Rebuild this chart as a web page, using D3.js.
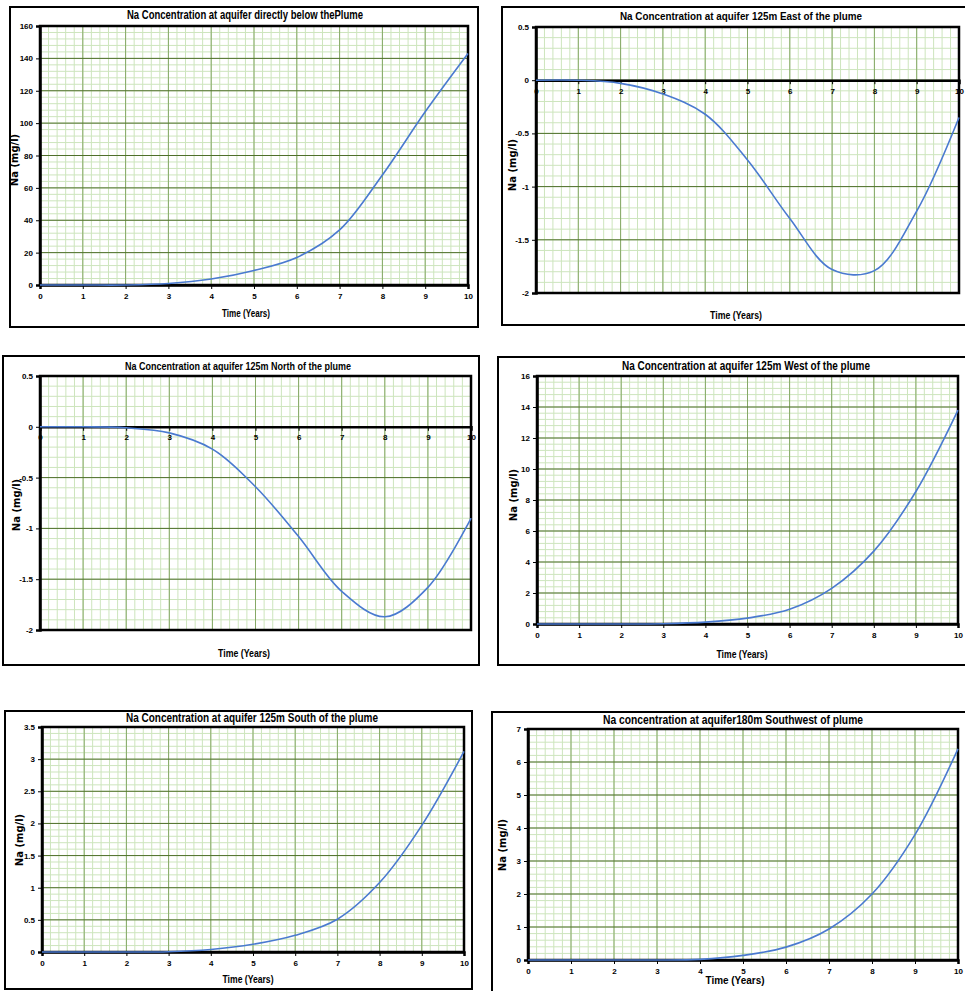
<!DOCTYPE html>
<html>
<head>
<meta charset="utf-8">
<script src="https://cdn.jsdelivr.net/npm/d3@7"></script>
<style>
  html, body { margin: 0; padding: 0; background: #fff; }
  svg { display: block; }
</style>
</head>
<body>
<svg id="chart" width="965" height="991"></svg>
<script>
// ---- data ----
const years = [0, 1, 2, 3, 4, 5, 6, 7, 8, 9, 10];
const xTicks = [0, 1, 2, 3, 4, 5, 6, 7, 8, 9, 10];

const naBelow = [0, 0, 0, 0.9, 3.7, 9, 17, 34, 68, 107, 143];
const naEast = [0, 0, -0.03, -0.13, -0.32, -0.75, -1.3, -1.78, -1.79, -1.23, -0.35];
const naNorth = [0, 0, -0.01, -0.06, -0.22, -0.59, -1.08, -1.62, -1.87, -1.58, -0.9];
const naWest = [0, 0, 0, 0.02, 0.12, 0.38, 0.95, 2.3, 4.7, 8.55, 13.8];
const naSouth = [0, 0, 0, 0.005, 0.04, 0.12, 0.26, 0.51, 1.08, 1.97, 3.12];
const naSouthwest = [0, 0, 0, 0, 0.02, 0.14, 0.39, 0.94, 2.0, 3.8, 6.4];

const yTicksBelow = [0, 20, 40, 60, 80, 100, 120, 140, 160];
const yTicksDip = [-2, -1.5, -1, -0.5, 0, 0.5];
const yTicksWest = [0, 2, 4, 6, 8, 10, 12, 14, 16];
const yTicksSouth = [0, 0.5, 1, 1.5, 2, 2.5, 3, 3.5];
const yTicksSouthwest = [0, 1, 2, 3, 4, 5, 6, 7];

const titles = [
    'Na Concentration at aquifer directly below thePlume',
    'Na Concentration at aquifer 125m East of the plume',
    'Na Concentration at aquifer 125m North of the plume',
    'Na Concentration at aquifer 125m West of the plume',
    'Na Concentration at aquifer 125m South of the plume',
    'Na concentration at aquifer180m Southwest of plume',
];
const xLabel = 'Time (Years)';
const yLabel = 'Na (mg/l)';

// ---- layout (frame, plot area, text spots) ----
const panels = [
    { values: naBelow, ticks: yTicksBelow, title: titles[0],
      frame: [10, 7, 468, 320], plot: [40, 26, 468, 285],
      titleAt: [245, 19, 236, 12], xLabAt: [246, 317, 48], yLabAt: [14, 160] },
    { values: naEast, ticks: yTicksDip, title: titles[1],
      frame: [502, 7, 475, 318], plot: [536, 27, 959, 293],
      titleAt: [741, 20, 242, 11], xLabAt: [736, 319, 52], yLabAt: [512, 165] },
    { values: naNorth, ticks: yTicksDip, title: titles[2],
      frame: [3, 356, 476, 309], plot: [40, 376, 471, 630],
      titleAt: [238, 370, 226, 11], xLabAt: [244, 657, 52], yLabAt: [16, 505] },
    { values: naWest, ticks: yTicksWest, title: titles[3],
      frame: [498, 357, 479, 308], plot: [537, 376, 958, 624],
      titleAt: [746, 370, 248, 12], xLabAt: [742, 658, 51], yLabAt: [513, 495] },
    { values: naSouth, ticks: yTicksSouth, title: titles[4],
      frame: [5, 711, 467, 278], plot: [42, 727, 464, 952],
      titleAt: [252, 722, 252, 12], xLabAt: [248, 983, 51], yLabAt: [19, 840] },
    { values: naSouthwest, ticks: yTicksSouthwest, title: titles[5],
      frame: [492, 712, 485, 290], plot: [528, 729, 958, 960],
      titleAt: [733, 724, 260, 12], xLabAt: [735, 984, 59], yLabAt: [502, 845] },
];

const svg = d3.select('#chart');
const narrow = '"Liberation Sans Narrow", "Arial Narrow", sans-serif';

panels.forEach((p) => {
    const [fx, fy, fw, fh] = p.frame;
    const [x0, y0, x1, y1] = p.plot;
    const g = svg.append('g');

    g.append('rect')
        .attr('x', fx).attr('y', fy).attr('width', fw).attr('height', fh)
        .attr('fill', '#fff').attr('stroke', '#000').attr('stroke-width', 2);

    const ymin = d3.min(p.ticks);
    const ymax = d3.max(p.ticks);
    const step = p.ticks[1] - p.ticks[0];
    const x = d3.scaleLinear().domain([0, 10]).range([x0, x1]);
    const y = d3.scaleLinear().domain([ymin, ymax]).range([y1, y0]);

    // minor grid, 5 per major step
    const minorX = d3.range(0, 50).map((i) => i / 5);
    const minorY = d3.range(0, Math.round((ymax - ymin) / step) * 5).map((i) => ymin + (i * step) / 5);
    g.selectAll('.minor-x').data(minorX).enter().append('line')
        .attr('x1', (d) => x(d)).attr('x2', (d) => x(d))
        .attr('y1', y0).attr('y2', y1)
        .attr('stroke', '#cde5bd').attr('stroke-width', 1);
    g.selectAll('.minor-y').data(minorY).enter().append('line')
        .attr('x1', x0).attr('x2', x1)
        .attr('y1', (d) => y(d)).attr('y2', (d) => y(d))
        .attr('stroke', '#cde5bd').attr('stroke-width', 1);

    // major grid
    g.selectAll('.major-x').data(xTicks).enter().append('line')
        .attr('x1', (d) => x(d)).attr('x2', (d) => x(d))
        .attr('y1', y0).attr('y2', y1)
        .attr('stroke', '#86a866').attr('stroke-width', 1);
    g.selectAll('.major-y').data(p.ticks).enter().append('line')
        .attr('x1', x0).attr('x2', x1)
        .attr('y1', (d) => y(d)).attr('y2', (d) => y(d))
        .attr('stroke', '#4f6f2a').attr('stroke-width', 1);

    // axes
    const yAxis = g.append('g')
        .attr('transform', `translate(${x0},0)`)
        .call(d3.axisLeft(y).tickValues(p.ticks).tickSize(4).tickPadding(3).tickFormat((d) => d));
    const axisY = ymin < 0 ? y(0) : y1;
    const xAxis = g.append('g')
        .attr('transform', `translate(0,${axisY})`)
        .call(d3.axisBottom(x).tickValues(xTicks).tickSize(4).tickPadding(4).tickFormat((d) => d));
    [yAxis, xAxis].forEach((a) => {
        a.select('.domain').attr('stroke', '#000').attr('stroke-width', 2.5);
        a.selectAll('.tick line').attr('stroke', '#000').attr('stroke-width', 1);
        a.selectAll('.tick text')
            .attr('fill', '#000')
            .style('font-family', narrow)
            .style('font-size', '8px')
            .style('font-weight', 'bold');
    });

    // plot border
    g.append('rect')
        .attr('x', x0).attr('y', y0).attr('width', x1 - x0).attr('height', y1 - y0)
        .attr('fill', 'none').attr('stroke', '#000').attr('stroke-width', 2.5);

    // series
    const line = d3.line()
        .x((d, i) => x(years[i]))
        .y((d) => y(d))
        .curve(d3.curveCatmullRom.alpha(0.5));
    g.append('path')
        .attr('d', line(p.values))
        .attr('fill', 'none')
        .attr('stroke', '#4a7ad0')
        .attr('stroke-width', 1.6);

    // texts
    g.append('text')
        .attr('x', p.titleAt[0]).attr('y', p.titleAt[1])
        .attr('text-anchor', 'middle')
        .attr('textLength', p.titleAt[2]).attr('lengthAdjust', 'spacingAndGlyphs')
        .style('font-family', narrow).style('font-size', p.titleAt[3] + 'px')
        .style('font-weight', 'bold')
        .text(p.title);
    g.append('text')
        .attr('x', p.xLabAt[0]).attr('y', p.xLabAt[1])
        .attr('text-anchor', 'middle')
        .attr('textLength', p.xLabAt[2]).attr('lengthAdjust', 'spacingAndGlyphs')
        .style('font-family', narrow).style('font-size', '11px')
        .style('font-weight', 'bold')
        .text(xLabel);
    g.append('text')
        .attr('transform', `translate(${p.yLabAt[0] + 4},${p.yLabAt[1]}) rotate(-90)`)
        .attr('text-anchor', 'middle')
        .style('font-family', '"DejaVu Sans", Verdana, sans-serif').style('font-size', '10px')
        .style('font-weight', 'bold')
        .text(yLabel);
});
</script>
</body>
</html>
